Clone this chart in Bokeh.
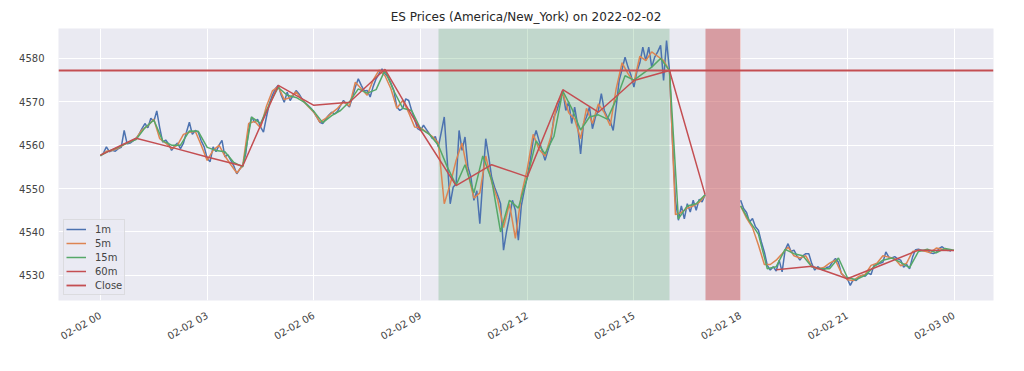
import math
import numpy as np
import pandas as pd
from bokeh.plotting import figure
from bokeh.models import Range1d, DatetimeTickFormatter, FixedTicker
from bokeh.embed import file_html
from bokeh.resources import INLINE

NaN = float("nan")
day = pd.Timestamp("2022-02-02")

title_text = "ES Prices (America/New_York) on 2022-02-02"

m1_values = [
    4557.5, 4558.2, 4559.6, 4558.5, 4558.8, 4558.6, 4559.2, 4559.5, 4563.4, 4560.3, 4560.5, 4561.0,
    4561.5, 4562.5, 4563.8, 4565.0, 4564.0, 4566.2, 4565.5, 4567.9, 4564.0, 4560.7, 4561.2, 4560.3,
    4558.8, 4559.8, 4560.5, 4559.2, 4560.5, 4563.0, 4565.3, 4562.5, 4563.4, 4563.0, 4561.0, 4559.6,
    4557.0, 4556.2, 4559.6, 4558.5, 4560.0, 4561.1, 4557.3, 4557.8, 4556.5, 4555.2, 4553.4, 4554.5,
    4555.3, 4558.0, 4563.5, 4566.5, 4565.3, 4566.0, 4564.2, 4563.0, 4566.5, 4569.6, 4571.5, 4573.0,
    4573.8, 4571.5, 4569.9, 4572.2, 4570.3, 4571.5, 4572.6, 4571.8, 4570.7, 4569.8, 4569.2, 4568.5,
    4567.6, 4566.5, 4565.3, 4565.0, 4566.0, 4566.9, 4567.6, 4567.2, 4567.8, 4569.2, 4570.3, 4569.5,
    4568.8, 4571.0, 4573.4, 4575.3, 4573.8, 4572.5, 4572.6, 4571.1, 4573.5, 4575.3, 4576.5, 4577.6,
    4576.5, 4575.7, 4574.3, 4572.6, 4568.8, 4568.0, 4568.5, 4570.7, 4570.3, 4568.0, 4566.0, 4563.8,
    4563.4, 4564.6, 4563.6, 4562.6, 4561.5, 4562.0, 4559.6, 4563.0, 4566.5, 4556.5, 4546.5, 4550.3,
    4551.1, 4563.4, 4558.8, 4561.9, 4554.9, 4552.6, 4547.3, 4549.5, 4541.9, 4552.0, 4561.5, 4557.3,
    4552.6, 4550.3, 4548.5, 4546.5, 4535.8, 4540.0, 4543.4, 4547.3, 4545.0, 4538.1, 4546.0, 4549.6,
    4552.6, 4556.5, 4561.1, 4563.4, 4561.0, 4558.8, 4556.5, 4558.8, 4561.1, 4566.5, 4568.0, 4570.3,
    4572.6, 4568.0, 4570.0, 4565.0, 4568.8, 4564.6, 4558.0, 4565.0, 4566.5, 4568.8, 4563.8, 4566.5,
    4568.0, 4571.9, 4568.0, 4566.5, 4565.5, 4563.4, 4568.8, 4574.9, 4577.5, 4580.3, 4578.0, 4576.1,
    4573.4, 4577.0, 4579.0, 4582.6, 4579.5, 4582.6, 4578.0, 4580.3, 4581.5, 4583.0, 4574.9, 4584.1,
    4577.2, 4561.1, 4547.3, 4542.7, 4546.0, 4543.0, 4546.5, 4544.6, 4547.3, 4545.0, 4547.5, 4546.9,
    4548.6, NaN, NaN, NaN, NaN, NaN, NaN, NaN, NaN, NaN, NaN, NaN,
    4547.3, 4545.4, 4544.5, 4542.3, 4543.1, 4541.2, 4540.4, 4537.7, 4535.4, 4532.3, 4531.2, 4532.0,
    4531.0, 4533.5, 4530.8, 4535.8, 4537.3, 4535.5, 4535.8, 4534.5, 4533.5, 4534.5, 4535.0, 4535.0,
    4532.7, 4531.2, 4532.0, 4531.5, 4531.2, 4531.8, 4532.0, 4533.1, 4533.9, 4533.0, 4530.4, 4529.8,
    4529.2, 4527.7, 4529.0, 4528.8, 4529.6, 4530.0, 4529.8, 4530.5, 4530.2, 4532.3, 4532.5, 4532.8,
    4533.0, 4535.4, 4534.2, 4534.0, 4534.3, 4533.8, 4533.5, 4531.9, 4532.5, 4531.5, 4534.2, 4535.9,
    4536.0, 4535.8, 4535.6, 4535.8, 4535.2, 4535.0, 4535.3, 4536.2, 4536.6, 4536.0, 4535.8, 4535.6,
]

# 5m series (sampled every 10 minutes)
m5_values = [
    4557.6, 4558.6, 4558.8, 4559.3, 4560.2, 4560.8,
    4561.5, 4563.5, 4564.5, 4566.0, 4561.5, 4560.5,
    4559.2, 4560.0, 4562.5, 4563.0, 4563.2, 4560.0,
    4556.5, 4558.8, 4560.0, 4557.5, 4555.5, 4553.6,
    4555.3, 4565.0, 4565.5, 4564.0, 4569.0, 4572.5,
    4573.5, 4570.5, 4571.0, 4572.3, 4570.5, 4569.0,
    4567.6, 4565.3, 4566.2, 4567.4, 4568.5, 4570.0,
    4569.0, 4574.5, 4573.0, 4571.5, 4575.0, 4577.3,
    4576.0, 4573.0, 4568.5, 4570.3, 4567.5, 4564.2,
    4564.0, 4563.0, 4562.0, 4560.5, 4546.5, 4551.0,
    4556.5, 4560.5, 4553.5, 4547.8, 4549.0, 4557.5,
    4551.5, 4547.5, 4541.0, 4546.5, 4538.5, 4548.5,
    4554.5, 4562.5, 4559.0, 4557.5, 4562.0, 4569.5,
    4572.0, 4567.5, 4566.0, 4561.5, 4568.5, 4565.0,
    4569.5, 4567.5, 4564.5, 4573.0, 4579.0, 4576.5,
    4574.5, 4580.5, 4579.5, 4581.5, 4580.5, 4579.5,
    4577.2, 4544.0, 4544.5, 4545.5, 4546.0, 4546.8,
    4548.4, NaN, NaN, NaN, NaN, NaN,
    4546.0, 4543.2, 4541.0, 4537.0, 4532.5, 4532.5,
    4533.5, 4535.0, 4536.5, 4534.5, 4534.0, 4534.5,
    4532.0, 4531.5, 4531.8, 4532.8, 4533.5, 4530.5,
    4529.0, 4528.8, 4529.8, 4530.2, 4532.3, 4532.8,
    4534.5, 4534.2, 4533.8, 4532.2, 4532.8, 4535.5,
    4535.8, 4535.6, 4535.2, 4536.3, 4536.0, 4535.7,
]

# 15m series (every 15 minutes, 00:00 .. 24:00)
m15_values = [
    4557.6, 4558.7, 4559.5, 4560.5,
    4561.3, 4564.0, 4565.8, 4561.0,
    4560.0, 4560.0, 4563.3, 4563.2,
    4559.5, 4558.8, 4558.5, 4556.0,
    4555.0, 4566.5, 4565.0, 4569.5,
    4573.3, 4571.5, 4571.0, 4569.8,
    4567.8, 4565.2, 4566.8, 4568.0,
    4570.0, 4573.0, 4572.0, 4572.8,
    4577.3, 4572.5, 4568.5, 4568.0,
    4563.8, 4562.5, 4560.0, 4555.0,
    4550.8, 4555.5, 4549.0, 4557.5,
    4552.0, 4540.0, 4547.3, 4545.5,
    4552.6, 4561.0, 4558.0, 4562.0,
    4572.5, 4568.5, 4563.5, 4566.5,
    4567.0, 4566.0, 4570.5, 4576.0,
    4575.0, 4576.5, 4578.0, 4580.0,
    4577.2, 4543.0, 4546.0, 4546.5,
    4548.6, NaN, NaN, NaN,
    4546.0, 4542.5, 4539.5, 4531.5,
    4532.0, 4536.0, 4535.0, 4534.5,
    4532.0, 4531.5, 4531.5, 4534.0,
    4529.5, 4529.0, 4530.0, 4532.0,
    4533.5, 4534.0, 4533.0, 4531.8,
    4535.5, 4536.0, 4535.2, 4536.2,
    4535.8,
]

# 60m series (hourly, 00:00 .. 24:00)
m60_values = [
    4557.7, 4561.6, 4559.5, 4557.3, 4555.2, 4573.8, 4569.2, 4569.9,
    4577.5, 4563.5, 4550.7, 4555.5, 4552.7, 4572.8, 4567.6, 4574.9,
    4577.2, 4548.6, NaN, 4531.3, 4532.1, 4529.2, 4532.5, 4535.8, 4535.7,
]

close_value = 4577.2

# shaded sessions (hours of day)
rth_hours = (9.5, 16.0)
halt_hours = (17.0, 18.0)

tick_hours = [0, 3, 6, 9, 12, 15, 18, 21, 24]
y_ticks = [4530, 4540, 4550, 4560, 4570, 4580]

t1 = pd.date_range(day, periods=len(m1_values), freq="5min")
t5 = pd.date_range(day, periods=len(m5_values), freq="10min")
t15 = pd.date_range(day, periods=len(m15_values), freq="15min")
t60 = pd.date_range(day, periods=len(m60_values), freq="60min")


def hms(h):
    return (day + pd.Timedelta(hours=h))


def ms(h):
    return hms(h).value / 1e6


p = figure(width=1008, height=355, x_axis_type="datetime",
           output_backend="svg", toolbar_location=None,
           x_range=Range1d(ms(-1.18), ms(25.11)),
           y_range=Range1d(4524.2, 4586.9),
           min_border_left=58, min_border_right=15,
           min_border_top=28, min_border_bottom=55)

p.title.text = title_text
p.title.align = "center"
p.title.text_font = "DejaVu Sans"
p.title.text_font_size = "12px"
p.title.text_font_style = "normal"
p.title.text_color = "#262626"

p.background_fill_color = "#EAEAF2"
p.border_fill_color = "white"
p.outline_line_color = None

for ax in (p.xaxis, p.yaxis):
    ax.axis_line_color = None
    ax.major_tick_line_color = None
    ax.minor_tick_line_color = None
    ax.major_label_text_font = "DejaVu Sans"
    ax.major_label_text_font_size = "10px"
    ax.major_label_text_color = "#444444"

p.yaxis.ticker = FixedTicker(ticks=y_ticks)
p.yaxis.major_label_standoff = 8
p.xaxis.ticker = FixedTicker(ticks=[ms(h) for h in tick_hours])
fmt = "%m-%d %H"
p.xaxis.formatter = DatetimeTickFormatter(hours=fmt, hourmin=fmt, days=fmt,
                                          minutes=fmt, minsec=fmt, months=fmt)
p.xaxis.major_label_orientation = math.pi / 6
p.xaxis.major_label_standoff = 8

p.grid.grid_line_color = "white"
p.grid.grid_line_width = 1

p.vstrip(x0=[hms(rth_hours[0])], x1=[hms(rth_hours[1])],
         fill_color="#55a868", fill_alpha=0.27, line_alpha=0)
p.vstrip(x0=[hms(halt_hours[0])], x1=[hms(halt_hours[1])],
         fill_color="#c44e52", fill_alpha=0.5, line_alpha=0)

p.line(t1, m1_values, line_color="#4c72b0", line_width=1.5, legend_label="1m")
p.line(t5, m5_values, line_color="#dd8452", line_width=1.5, legend_label="5m")
p.line(t15, m15_values, line_color="#55a868", line_width=1.5, legend_label="15m")
p.line(t60, m60_values, line_color="#c44e52", line_width=1.5, legend_label="60m")
p.hspan(y=[close_value], line_color="#c44e52", line_width=1.8, legend_label="Close")

lg = p.legend[0]
lg.location = "bottom_left"
lg.margin = 5
lg.padding = 2
lg.spacing = 0
lg.label_height = 14
lg.glyph_height = 14
lg.glyph_width = 20
lg.label_standoff = 9
lg.label_text_font = "DejaVu Sans"
lg.label_text_font_size = "10px"
lg.label_text_color = "#444444"
lg.background_fill_color = "#EAEAF2"
lg.background_fill_alpha = 0.8
lg.border_line_color = "#cccccc"
lg.border_line_width = 1

open("out.html", "w").write(file_html(p, INLINE))
